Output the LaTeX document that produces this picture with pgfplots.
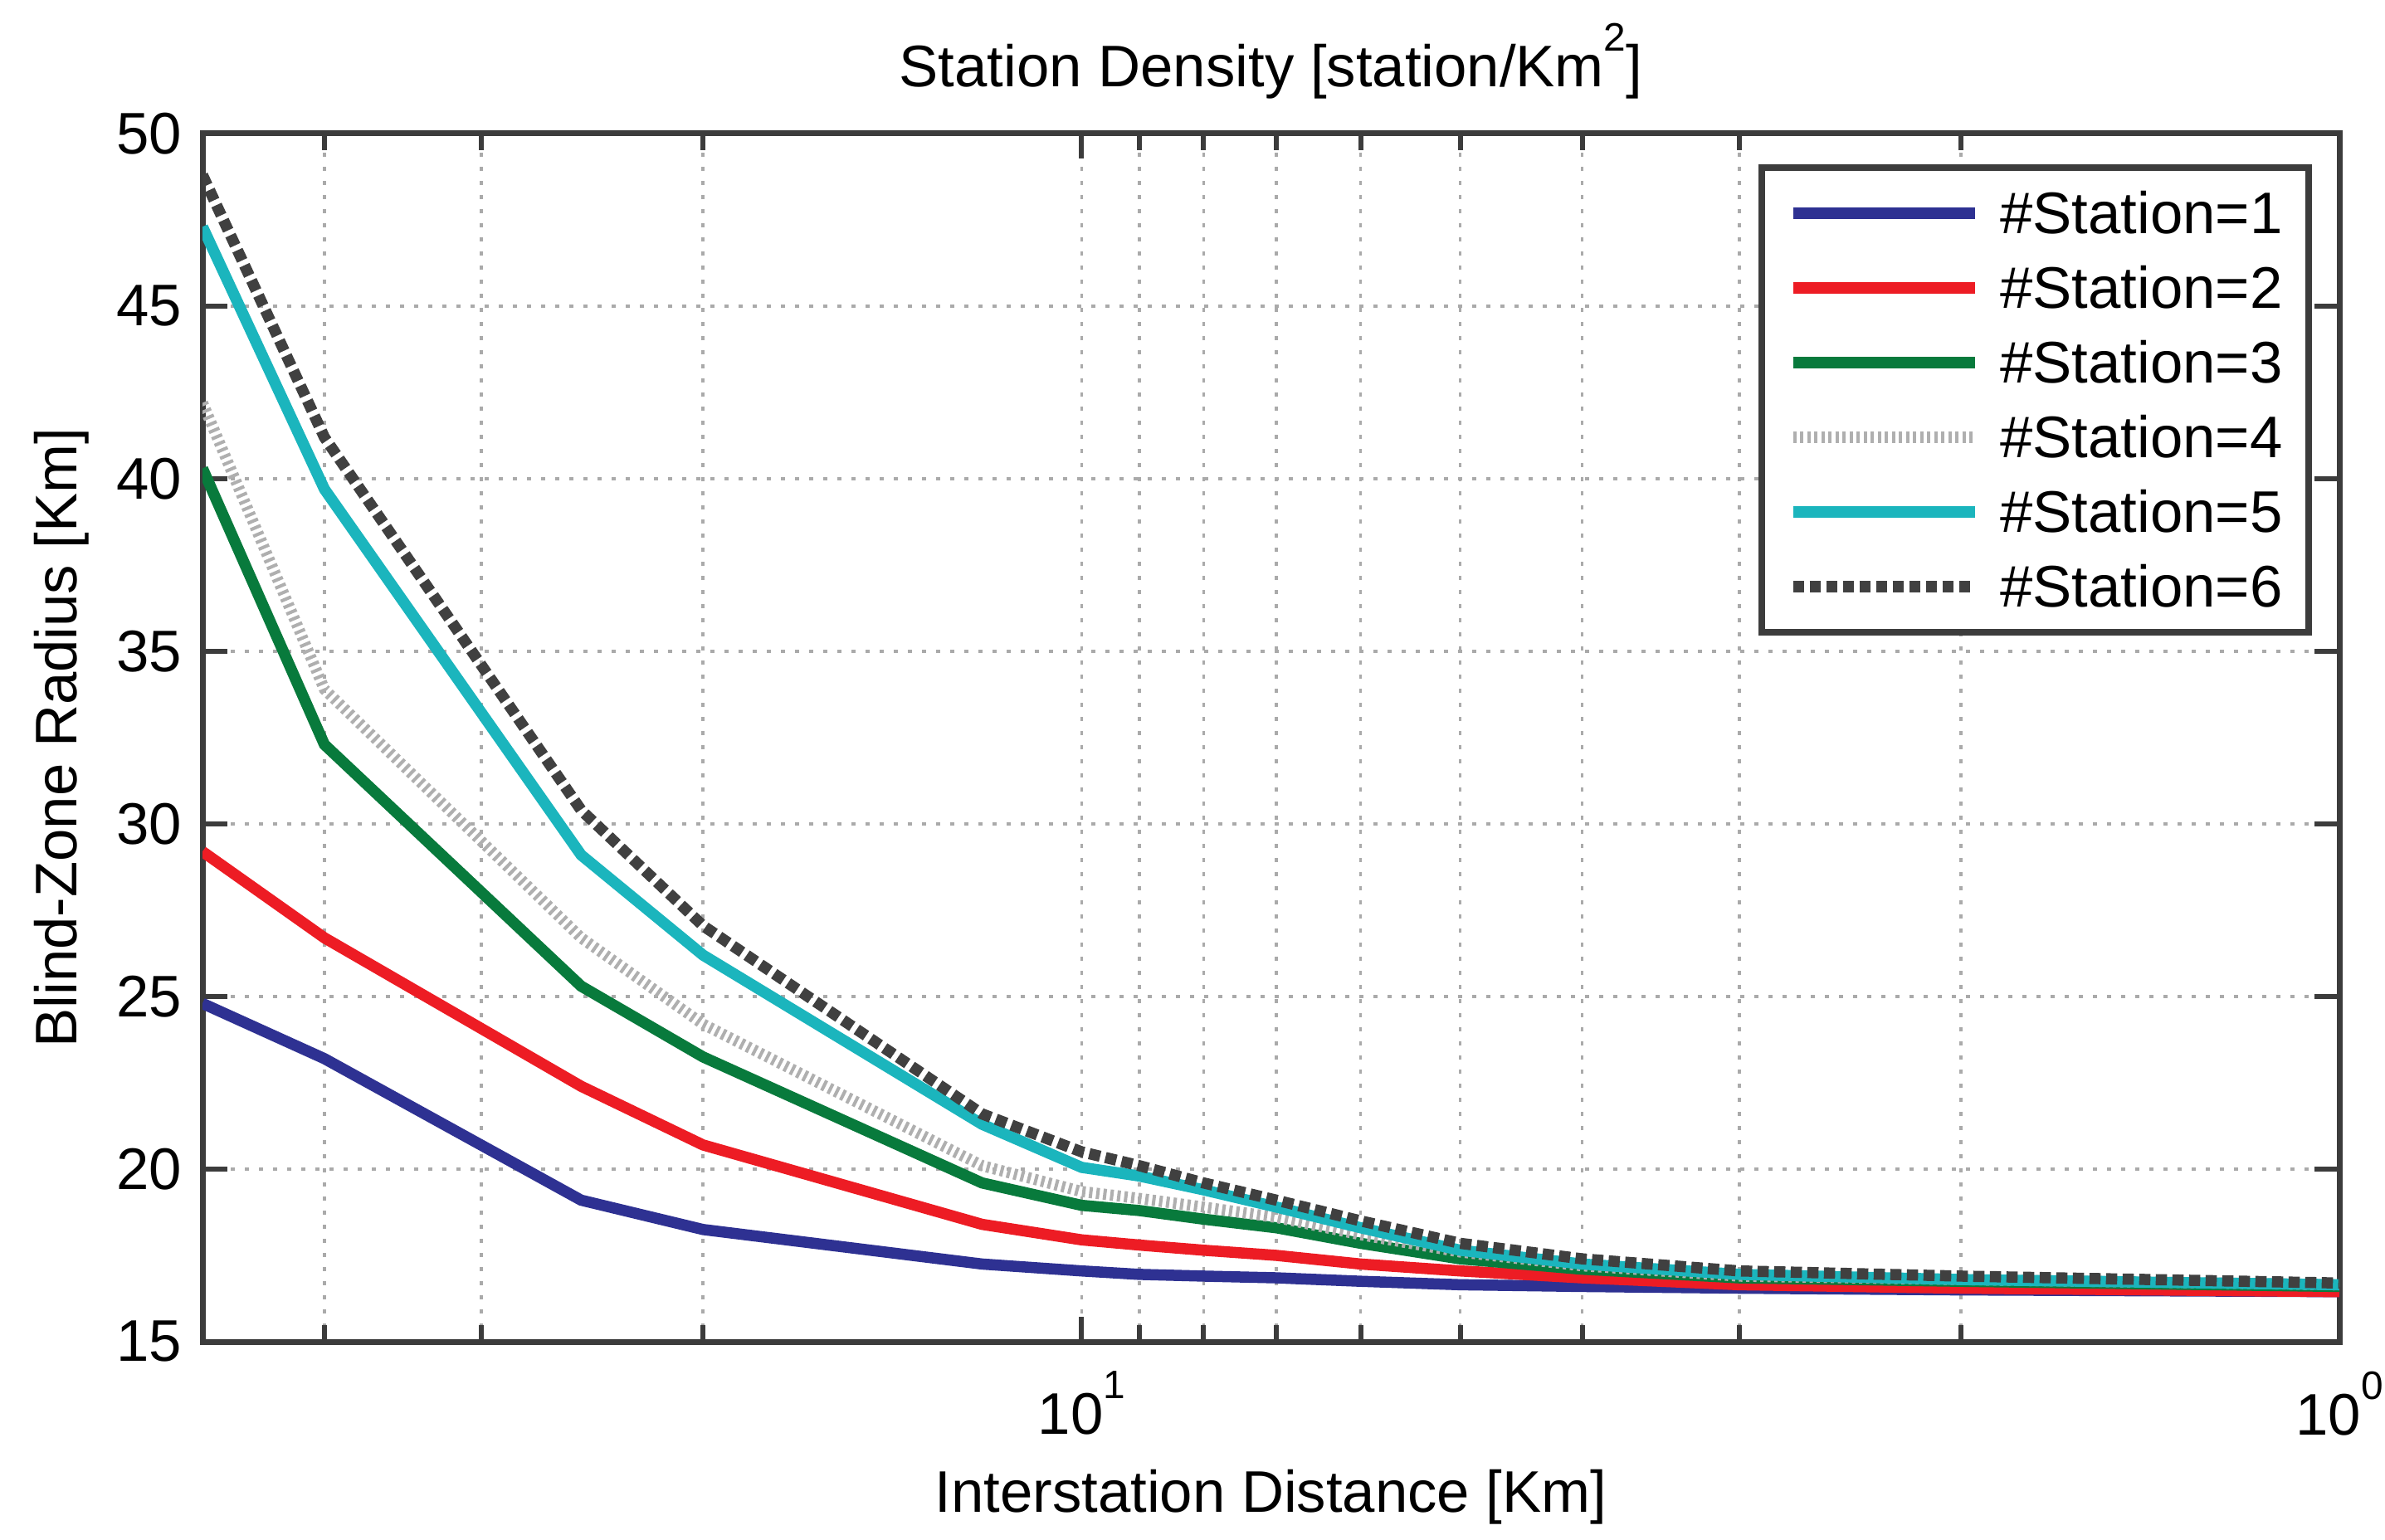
\documentclass[border=0pt]{standalone}
\usepackage{fontspec}
\setmainfont{Liberation Sans}
\usepackage{pgfplots}
\pgfplotsset{compat=1.18}
\definecolor{cBlue}{RGB}{46,49,146}
\definecolor{cRed}{RGB}{237,28,36}
\definecolor{cGreen}{RGB}{8,122,60}
\definecolor{cGray}{RGB}{175,175,175}
\definecolor{cCyan}{RGB}{27,181,189}
\definecolor{cDark}{RGB}{64,64,64}
\definecolor{axisgray}{RGB}{60,60,60}
\definecolor{gridgray}{RGB}{170,170,170}
\newcommand\f{\fontsize{7.1}{8.5}\selectfont}
\newcommand\mysup[1]{\raisebox{4.3bp}{\fontsize{4.8}{5}\selectfont #1}}
\begin{document}
\begin{tikzpicture}
\begin{axis}[
  xmode=log,
  scale only axis,
  width=257.5bp, height=145.6bp,
  xmin=2, xmax=100, ymin=15, ymax=50,
  ytick={15,20,25,30,35,40,45,50},
  xtick={10,100},
  xticklabels={10\mysup{1},10\mysup{0}},
  minor xtick={2.5,3.33333,5,11.1111,12.5,14.2857,16.6667,20,25,33.3333,50},
  minor ytick={},
  tick align=inside,
  xtick pos=both, ytick pos=both,
  major tick length=3bp,
  minor tick length=2bp,
  every tick/.style={draw=axisgray, line width=0.6bp},
  axis line style={draw=axisgray, line width=0.7bp},
  grid=both,
  major grid style={draw=gridgray, line width=0.35bp, dash pattern=on 0.5bp off 1.2bp},
  minor grid style={draw=gridgray, line width=0.35bp, dash pattern=on 0.5bp off 1.2bp},
  /pgf/number format/assume math mode=true,
  every tick label/.append style={font=\f, inner sep=0pt},
  yticklabel style={anchor=east, xshift=-2.3bp},
  xticklabel style={anchor=north, yshift=-3.4bp},
  title={Station Density [station/Km\mysup{2}]},
  every axis title/.style={at={(axis description cs:0.5,1.0385)}, anchor=base, font=\f, inner sep=0pt},
  xlabel={Interstation Distance [Km]},
  xlabel style={at={(axis description cs:0.5,-0.1408)}, anchor=base, font=\f, inner sep=0pt},
  ylabel={Blind-Zone Radius [Km]},
  ylabel style={at={(axis description cs:-0.059,0.5)}, anchor=base, font=\f, inner sep=0pt},
  legend style={at={(rel axis cs:0.987,0.9746)}, anchor=north east,
    draw=axisgray, line width=0.8bp, fill=white, font=\f,
    inner xsep=3.1bp, inner ysep=3bp, row sep=4bp, column sep=2.4bp,
    nodes={inner sep=0pt, text height=5bp, text depth=0bp}},
  legend cell align=left,
  legend image code/.code={\draw[#1] (0bp,0bp) -- (21.9bp,0bp);},
]
\addplot[cBlue, line width=1.35bp] coordinates {
(2,24.8) (2.5,23.2) (4,19.1) (5,18.25) (8.333,17.25) (10,17.05) (11.111,16.95) (12.5,16.9) (14.286,16.85) (16.667,16.75) (20,16.65) (25,16.6) (33.333,16.55) (50,16.5) (100,16.45)};
\addlegendentry{\#Station=1}
\addplot[cRed, line width=1.35bp] coordinates {
(2,29.2) (2.5,26.7) (4,22.4) (5,20.7) (8.333,18.4) (10,17.95) (11.111,17.8) (12.5,17.65) (14.286,17.5) (16.667,17.25) (20,17.05) (25,16.85) (33.333,16.65) (50,16.55) (100,16.45)};
\addlegendentry{\#Station=2}
\addplot[cGreen, line width=1.35bp] coordinates {
(2,40.3) (2.5,32.3) (4,25.3) (5,23.25) (8.333,19.6) (10,18.95) (11.111,18.8) (12.5,18.55) (14.286,18.3) (16.667,17.85) (20,17.4) (25,17.1) (33.333,16.85) (50,16.75) (100,16.6)};
\addlegendentry{\#Station=3}
\addplot[cGray, line width=1.35bp, dash pattern=on 0.4bp off 0.45bp] coordinates {
(2,42.2) (2.5,33.9) (4,26.7) (5,24.2) (8.333,20.1) (10,19.35) (11.111,19.15) (12.5,18.9) (14.286,18.6) (16.667,18.1) (20,17.6) (25,17.2) (33.333,16.9) (50,16.8) (100,16.65)};
\addlegendentry{\#Station=4}
\addplot[cCyan, line width=1.35bp] coordinates {
(2,47.3) (2.5,39.7) (4,29.1) (5,26.2) (8.333,21.3) (10,20.05) (11.111,19.8) (12.5,19.4) (14.286,18.9) (16.667,18.3) (20,17.65) (25,17.25) (33.333,16.95) (50,16.8) (100,16.65)};
\addlegendentry{\#Station=5}
\addplot[cDark, line width=1.35bp, dash pattern=on 1.35bp off 0.65bp] coordinates {
(2,48.8) (2.5,41.2) (4,30.4) (5,27.05) (8.333,21.6) (10,20.5) (11.111,20.1) (12.5,19.6) (14.286,19.1) (16.667,18.5) (20,17.85) (25,17.4) (33.333,17.05) (50,16.9) (100,16.7)};
\addlegendentry{\#Station=6}
\end{axis}
\pgfresetboundingbox
\path[use as bounding box] (-24.4bp,-23.8bp) rectangle (263.0bp,161.7bp);
\end{tikzpicture}
\end{document}
